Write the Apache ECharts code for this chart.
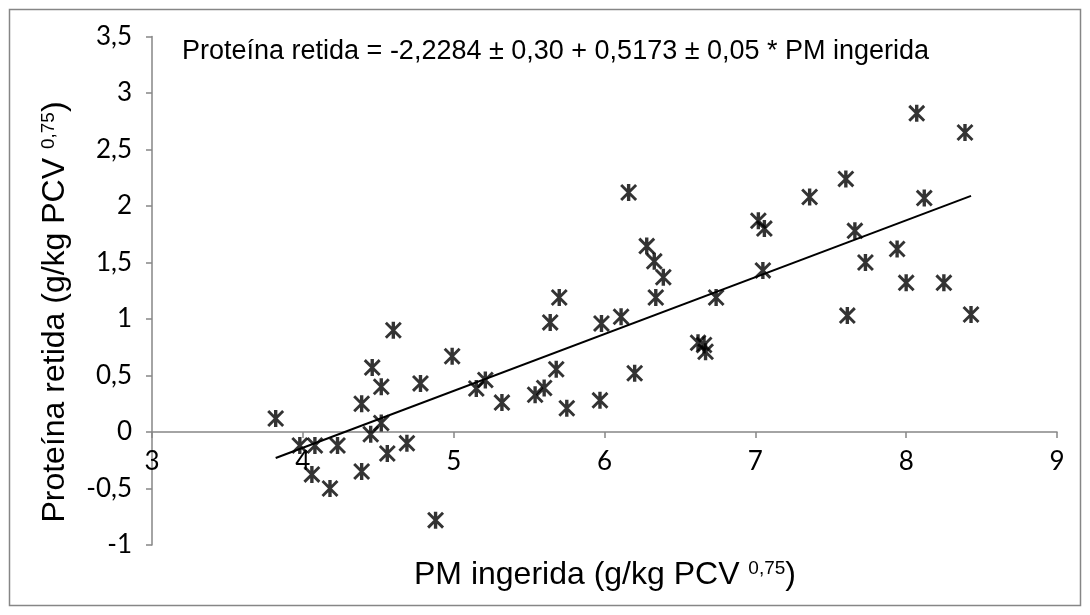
<!DOCTYPE html>
<html>
<head>
<meta charset="utf-8">
<script src="https://cdn.jsdelivr.net/npm/echarts@6/dist/echarts.min.js"></script>
<style>html,body{margin:0;padding:0;background:#fff}#c{width:1090px;height:615px}</style>
</head>
<body>
<div id="c"></div>
<script>
// PM ingerida (g/kg PCV^0,75)
const xValues = [3.82, 3.98, 4.08, 4.06, 4.18, 4.23, 4.39, 4.39, 4.46, 4.45, 4.52, 4.52, 4.56, 4.60, 4.69,
  4.78, 4.88, 4.99, 5.15, 5.21, 5.32, 5.54, 5.60, 5.64, 5.68, 5.70, 5.75, 5.97, 5.98, 6.11,
  6.16, 6.20, 6.28, 6.33, 6.34, 6.39, 6.62, 6.66, 6.67, 6.74, 7.02, 7.06, 7.05, 7.36, 7.60,
  7.61, 7.66, 7.73, 7.94, 8.00, 8.07, 8.12, 8.25, 8.39, 8.43];
// Proteína retida (g/kg PCV^0,75)
const yValues = [0.12, -0.12, -0.12, -0.375, -0.5, -0.12, 0.25, -0.35, 0.57, -0.02, 0.40, 0.08, -0.19, 0.90, -0.10,
  0.43, -0.78, 0.67, 0.385, 0.46, 0.26, 0.33, 0.39, 0.97, 0.555, 1.19, 0.21, 0.28, 0.96, 1.02,
  2.12, 0.52, 1.645, 1.51, 1.19, 1.37, 0.79, 0.77, 0.71, 1.19, 1.87, 1.80, 1.43, 2.08, 2.24,
  1.03, 1.78, 1.50, 1.62, 1.32, 2.82, 2.07, 1.32, 2.65, 1.04];
// Trend line endpoints
const trendX = [3.82, 8.43];
const trendY = [-0.23, 2.09];
const xTicks = [3, 4, 5, 6, 7, 8, 9];
const yTicks = [-1, -0.5, 0, 0.5, 1, 1.5, 2, 2.5, 3, 3.5];
const equationText = 'Proteína retida = -2,2284 ± 0,30 + 0,5173 ± 0,05 * PM ingerida';
const xTitle = 'PM ingerida (g/kg PCV ';
const yTitle = 'Proteína retida (g/kg PCV ';
const supText = '0,75';

const fmt = v => String(v).replace('.', ',');
const starPath = 'path://M40,0L60,0L60,100L40,100Z M0,12L12,0L100,88L88,100Z M88,0L100,12L12,100L0,88Z';

const W = 1090, H = 615;
const gridTop = 36.5, gridBottom = 70;
const plotH = H - gridTop - gridBottom;
const yMin = yTicks[0], yMax = yTicks[yTicks.length - 1];
// shift x axis line up to y = 0 (horizontal axis crosses at 0)
const xAxisOffset = -(0 - yMin) / (yMax - yMin) * plotH;

const richTitle = {
  m: { fontFamily: 'Liberation Sans', fontSize: 32, fill: '#000', color: '#000' },
  s: { fontFamily: 'Liberation Sans', fontSize: 19, fill: '#000', color: '#000', verticalAlign: 'top' }
};

const chart = echarts.init(document.getElementById('c'));
chart.setOption({
  animation: false,
  backgroundColor: '#fff',
  grid: { left: 152, right: 33, top: gridTop, bottom: gridBottom, containLabel: false, outerBoundsMode: 'none' },
  xAxis: {
    type: 'value', min: xTicks[0], max: xTicks[xTicks.length - 1], interval: 1,
    position: 'bottom', offset: xAxisOffset,
    axisLine: { onZero: false, lineStyle: { color: '#868686', width: 1.5 } },
    axisTick: { show: true, inside: false, length: 6, lineStyle: { color: '#868686', width: 1.5 } },
    splitLine: { show: false },
    axisLabel: { margin: 17, color: '#000', fontFamily: 'Lato', fontSize: 26, formatter: fmt, hideOverlap: false }
  },
  yAxis: {
    type: 'value', min: yMin, max: yMax, interval: 0.5,
    axisLine: { show: true, onZero: false, lineStyle: { color: '#868686', width: 1.5 } },
    axisTick: { show: true, inside: false, length: 6, lineStyle: { color: '#868686', width: 1.5 } },
    splitLine: { show: false },
    axisLabel: { margin: 20, color: '#000', fontFamily: 'Lato', fontSize: 26, formatter: fmt }
  },
  graphic: [
    { type: 'rect', shape: { x: 9.5, y: 9.5, width: 1071, height: 596 }, style: { fill: 'none', stroke: '#868686', lineWidth: 1.5 }, silent: true },
    { type: 'text', x: 182, y: 52, style: { text: equationText, font: '27px "Liberation Sans"', fill: '#000', verticalAlign: 'middle' } },
    { type: 'text', x: 605, y: 575, style: {
        text: '{m|' + xTitle + '}{s|' + supText + '}{m|)}', align: 'center', verticalAlign: 'middle', rich: richTitle } },
    { type: 'text', x: 55, y: 312, rotation: Math.PI / 2, style: {
        text: '{m|' + yTitle + '}{s|' + supText + '}{m|)}', align: 'center', verticalAlign: 'middle', rich: richTitle } }
  ],
  series: [
    {
      type: 'scatter', data: xValues.map((x, i) => [x, yValues[i]]),
      symbol: starPath, symbolSize: 17, itemStyle: { color: '#000' }, z: 3
    },
    {
      type: 'line', data: trendX.map((x, i) => [x, trendY[i]]),
      showSymbol: false, symbol: 'none', lineStyle: { color: '#000', width: 2 }, z: 2
    }
  ]
});
</script>
</body>
</html>
